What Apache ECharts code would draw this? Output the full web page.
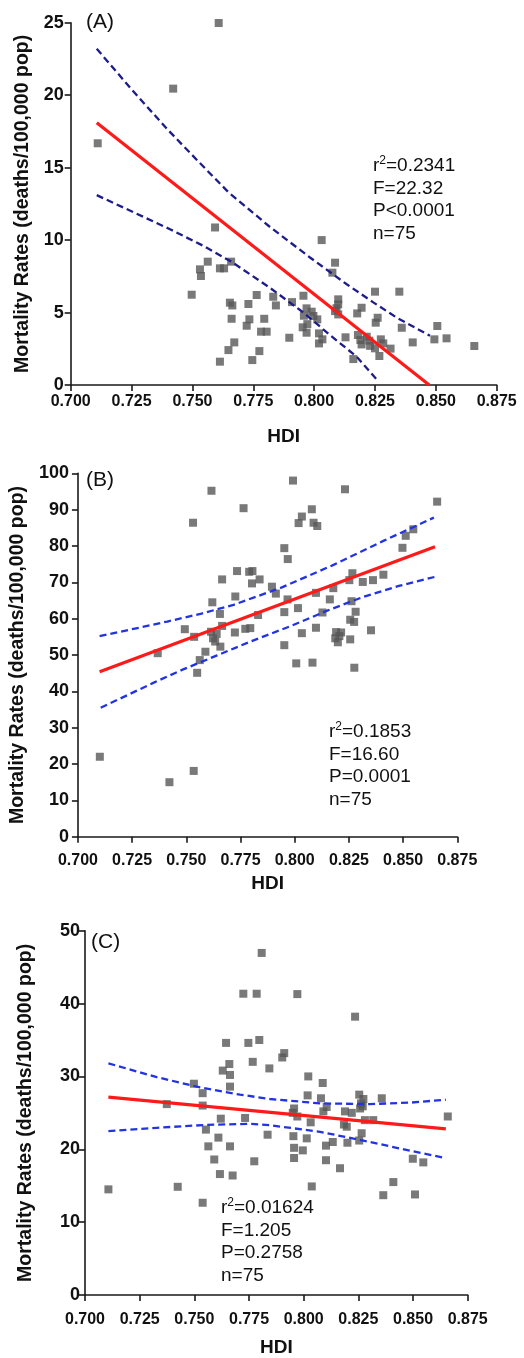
<!DOCTYPE html>
<html><head><meta charset="utf-8">
<script src="https://cdn.jsdelivr.net/npm/echarts@6/dist/echarts.min.js"></script>
<style>html,body{margin:0;padding:0;background:#fff}#c{width:524px;height:1358px}</style>
</head><body><div id="c"></div>
<script>
// ---------- DATA ----------
const hdiTicks = [0.700, 0.725, 0.750, 0.775, 0.800, 0.825, 0.850, 0.875];
const panelLabels = ['(A)', '(B)', '(C)'];
const xTitle = 'HDI';
const yTitle = 'Mortality Rates (deaths/100,000 pop)';

const pointsA = [[0.7111,16.68],[0.7421,20.45],[0.7608,24.98],
[0.7497,6.23],[0.7593,10.87],[0.7531,7.98],[0.7535,7.52],[0.7563,8.51],[0.7613,8.05],[0.7630,8.05],[0.7659,8.51],
[0.7613,1.61],[0.7648,2.41],[0.7672,2.94],[0.7654,5.68],[0.7664,5.49],[0.7661,4.57],
[0.7730,5.59],[0.7764,6.21],[0.7723,4.09],[0.7734,4.53],[0.7746,1.72],[0.7775,2.34],[0.7782,3.68],[0.7805,3.68],[0.7795,4.57],
[0.7832,6.09],[0.7843,5.49],[0.7909,5.72],[0.7898,3.26],[0.7956,6.16],[0.7958,4.78],[0.7953,3.98],[0.7969,3.61],[0.7969,5.29],[0.7990,5.06],[0.7997,4.76],[0.8013,4.53],[0.8020,3.56],[0.8020,2.87],[0.8034,3.15],[0.8031,10.0],
[0.8086,8.44],[0.8075,7.75],[0.8099,5.91],[0.8099,5.56],[0.8086,5.10],[0.8099,4.87],[0.8129,3.29],[0.8161,1.79],[0.8177,4.94],[0.8195,5.33],[0.8180,3.45],[0.8195,2.80],[0.8216,3.33],[0.8227,3.06],
[0.8250,6.44],[0.8253,4.30],[0.8261,4.64],[0.8268,2.00],[0.8250,2.53],[0.8274,3.15],[0.8284,2.87],[0.8314,2.51],[0.8350,6.44],[0.8360,3.95],[0.8405,2.94],[0.8494,3.15],[0.8506,4.07],[0.8544,3.22],[0.8658,2.69],
[0.8190,3.10],[0.8230,2.70],[0.7972,4.20],[0.8092,5.30]];
const fitA = [[0.7107,18.1],[0.8473,0]];
const upperA = [[0.7107,23.2],[0.7250,20.4],[0.7394,17.7],[0.7520,15.5],[0.7648,13.3],[0.7819,10.9],[0.7983,8.8],[0.8134,6.95],[0.8243,5.7],[0.8339,4.65],[0.8476,3.4]];
const lowerA = [[0.7107,13.1],[0.7408,10.75],[0.7545,9.6],[0.7661,8.5],[0.7819,6.7],[0.7956,5.0],[0.8065,3.45],[0.8175,1.95],[0.8264,0.25]];
const statsA = ['0.2341','F=22.32','P<0.0001','n=75'];

const pointsB = [[0.7101,22.0],[0.7368,50.5],[0.7422,15.0],[0.7493,57.1],[0.7534,18.1],[0.7536,55.0],[0.7531,86.4],[0.7550,45.1],[0.7562,48.6],[0.7588,50.9],
[0.7614,56.4],[0.7616,95.2],[0.7623,54.6],[0.7633,53.7],[0.7657,52.3],[0.7620,64.5],[0.7655,61.3],[0.7665,58.0],[0.7665,70.8],[0.7726,66.1],
[0.7724,56.2],[0.7734,73.1],[0.7805,73.1],[0.7764,90.4],[0.7772,57.2],[0.7795,57.4],[0.7803,69.7],[0.7838,70.8],[0.7831,61.0],[0.7895,68.8],
[0.7913,66.9],[0.7952,79.4],[0.7968,76.4],[0.7952,61.8],[0.7952,52.7],[0.7967,65.3],[0.7992,98.0],[0.8015,62.9],[0.8007,47.7],[0.8033,56.0],
[0.8018,86.3],[0.8033,88.1],[0.8079,90.1],[0.8087,86.4],[0.8104,85.5],[0.8098,67.1],[0.8098,57.5],[0.8082,47.9],[0.8128,61.7],[0.8162,65.3],
[0.8178,68.4],[0.8191,56.3],[0.8187,54.6],[0.8199,53.5],[0.8214,56.2],[0.8232,95.6],[0.8256,54.3],[0.8256,59.7],[0.8274,59.1],[0.8262,64.8],
[0.8281,61.9],[0.8275,46.5],[0.8252,70.6],[0.8266,72.5],[0.8314,70.1],[0.8361,70.6],[0.8352,56.8],[0.8409,72.1],[0.8497,79.5],[0.8512,82.8],
[0.8547,84.6],[0.8657,92.2],[0.7640,55.8],[0.7790,72.9],[0.8206,55.2]];
const fitB = [[0.7100,45.4],[0.8647,79.8]];
const upperB = [[0.7100,55.2],[0.7250,57.1],[0.7412,59.2],[0.7570,61.4],[0.7718,63.8],[0.7941,68.6],[0.8179,74.8],[0.8409,81.4],[0.8642,87.8]];
const lowerB = [[0.7105,35.5],[0.7230,39.0],[0.7350,42.4],[0.7480,45.9],[0.7642,49.9],[0.7800,53.8],[0.7979,57.9],[0.8150,62.2],[0.8317,66.0],[0.8480,69.0],[0.8647,71.5]];
const statsB = ['0.1853','F=16.60','P=0.0001','n=75'];

const pointsC = [[0.7808,46.95],[0.7724,41.35],[0.7785,41.35],[0.7645,34.6],[0.7747,34.6],[0.7797,35.0],[0.7767,32.0],[0.7843,31.1],[0.7660,31.7],[0.7630,30.8],
[0.7663,30.2],[0.7663,28.6],[0.7498,29.0],[0.7538,27.7],[0.7374,26.2],[0.7538,26.0],[0.7621,24.2],[0.7732,24.3],[0.7553,22.7],[0.7610,21.6],
[0.7835,22.0],[0.7564,20.4],[0.7663,20.4],[0.7591,18.6],[0.7774,18.35],[0.7617,16.6],[0.7675,16.4],[0.7107,14.5],[0.7424,14.85],[0.7538,12.66],
[0.7971,41.3],[0.8235,38.2],[0.7911,33.2],[0.7902,32.6],[0.8021,30.0],[0.8087,29.1],[0.8018,27.4],[0.8079,27.0],[0.8105,25.8],[0.8090,25.2],
[0.7956,25.6],[0.7971,24.5],[0.8032,23.7],[0.7953,21.8],[0.8014,21.5],[0.7956,20.2],[0.7996,19.85],[0.7956,18.8],[0.8102,18.5],[0.8102,20.5],
[0.8133,21.0],[0.8166,17.4],[0.8200,20.9],[0.8037,14.9],[0.8189,25.2],[0.8220,25.0],[0.8197,23.1],[0.8184,23.4],[0.8254,27.5],[0.8273,26.9],
[0.8270,25.9],[0.8258,25.6],[0.8280,24.0],[0.8318,24.0],[0.8357,27.0],[0.8265,22.2],[0.8254,21.2],[0.8410,15.5],[0.8364,13.7],[0.8499,18.7],
[0.8547,18.2],[0.8509,13.8],[0.8659,24.5],[0.8262,26.3],[0.7950,25.0]];
const fitC = [[0.7107,27.15],[0.8650,22.8]];
const upperC = [[0.7107,31.8],[0.7328,29.9],[0.7526,28.5],[0.7709,27.5],[0.7846,26.9],[0.8075,26.3],[0.8303,26.2],[0.8486,26.4],[0.8650,26.8]];
const lowerC = [[0.7107,22.5],[0.7328,22.95],[0.7557,23.35],[0.7755,23.5],[0.7846,23.3],[0.8075,22.4],[0.8303,21.0],[0.8486,19.8],[0.8650,18.8]];
const statsC = ['0.01624','F=1.205','P=0.2758','n=75'];

const yMaxes = [25, 100, 50];
const yIntervals = [5, 10, 10];

// ---------- LAYOUT / STYLE ----------
const FONT = '"Liberation Sans", Arial, Helvetica, sans-serif';
const grids = [
  {left: 70.7, top: 22.7, width: 426, height: 362.3},
  {left: 77.3, top: 473.3, width: 380, height: 363.4},
  {left: 85, top: 930.7, width: 382.7, height: 365.3}
];
const xLabelMargin = [9, 16, 17];
const xNameGap = [42, 38, 43];
const yLabelMargin = [7, 9, 5];
const yNameGap = [38, 45, 49];
const bandColors = ['#1c1c8a', '#2233e0', '#2233e0'];
const statPos = [{left: 373, top: 155}, {left: 329, top: 721}, {left: 221, top: 1197}];
const labelPos = [{left: 86, top: 12}, {left: 86, top: 470}, {left: 91, top: 932}];

const axisLineStyle = {color: '#1a1a1a', width: 1.6};
const xAxes = grids.map((g, i) => ({
  type: 'value', gridIndex: i, min: hdiTicks[0], max: hdiTicks[hdiTicks.length - 1], interval: 0.025,
  axisLine: {show: true, onZero: false, lineStyle: axisLineStyle},
  axisTick: {show: true, length: 6, lineStyle: axisLineStyle},
  splitLine: {show: false},
  axisLabel: {fontFamily: FONT, fontWeight: 'bold', fontSize: 16, color: '#111', margin: xLabelMargin[i],
    formatter: v => v.toFixed(3)},
  name: xTitle, nameLocation: 'middle', nameGap: xNameGap[i],
  nameTextStyle: {fontFamily: FONT, fontWeight: 'bold', fontSize: 19, color: '#111'}
}));
const yAxes = grids.map((g, i) => ({
  type: 'value', gridIndex: i, min: 0, max: yMaxes[i], interval: yIntervals[i],
  axisLine: {show: true, onZero: false, lineStyle: axisLineStyle},
  axisTick: {show: true, length: 6, lineStyle: axisLineStyle},
  splitLine: {show: false},
  axisLabel: {fontFamily: FONT, fontWeight: 'bold', fontSize: 18, color: '#111', margin: yLabelMargin[i]},
  name: yTitle, nameLocation: 'middle', nameGap: yNameGap[i], nameRotate: 90,
  nameTextStyle: {fontFamily: FONT, fontWeight: 'bold', fontSize: 19.5, color: '#111'}
}));

const allPoints = [pointsA, pointsB, pointsC];
const fits = [fitA, fitB, fitC];
const uppers = [upperA, upperB, upperC];
const lowers = [lowerA, lowerB, lowerC];
const stats = [statsA, statsB, statsC];

const series = [];
for (let i = 0; i < 3; i++) {
  series.push({type: 'scatter', xAxisIndex: i, yAxisIndex: i, data: allPoints[i], symbol: 'rect', symbolSize: 8,
    itemStyle: {color: '#585858'}, z: 2});
  [uppers[i], lowers[i]].forEach(d => series.push({type: 'line', xAxisIndex: i, yAxisIndex: i, data: d,
    showSymbol: false, symbol: 'none', lineStyle: {color: bandColors[i], width: 2.3, type: [7, 4]}, z: 3}));
  series.push({type: 'line', xAxisIndex: i, yAxisIndex: i, data: fits[i], showSymbol: false, symbol: 'none',
    lineStyle: {color: '#ff1a1a', width: 3.2}, z: 4});
}

const rich = {
  r: {fontFamily: FONT, fontWeight: 'normal', fontSize: 19, color: '#111', lineHeight: 22.5},
  s: {fontFamily: FONT, fontWeight: 'normal', fontSize: 12, color: '#111', lineHeight: 22.5, verticalAlign: 'top', padding: [0, 0, 8, 0]}
};
const titles = [];
for (let i = 0; i < 3; i++) {
  const st = stats[i];
  titles.push({text: '{r|r}{s|2}{r|=' + st[0] + '}\n{r|' + st[1] + '}\n{r|' + st[2] + '}\n{r|' + st[3] + '}',
    left: statPos[i].left, top: statPos[i].top, padding: 0,
    textStyle: {fontFamily: FONT, fontWeight: 'normal', fontSize: 19, rich: rich}});
  titles.push({text: panelLabels[i], left: labelPos[i].left, top: labelPos[i].top, padding: 0,
    textStyle: {fontFamily: FONT, fontWeight: 'normal', fontSize: 21, color: '#111'}});
}

const chart = echarts.init(document.getElementById('c'), null, {renderer: 'canvas'});
chart.setOption({
  backgroundColor: '#ffffff',
  animation: false,
  title: titles,
  grid: grids,
  xAxis: xAxes,
  yAxis: yAxes,
  series: series
});
</script></body></html>
